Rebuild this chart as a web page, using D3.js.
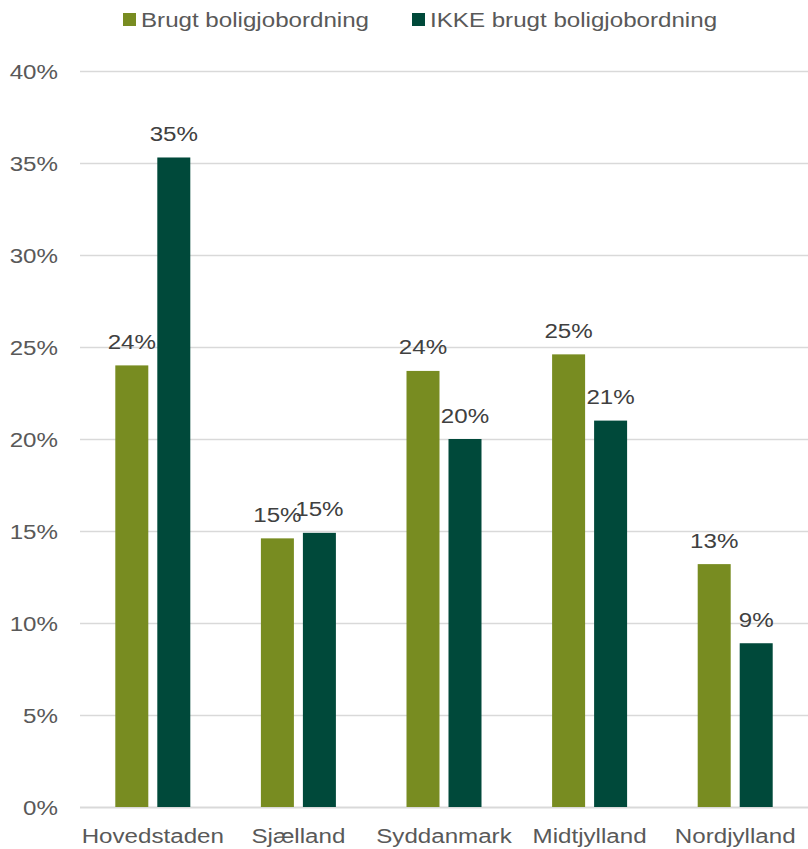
<!DOCTYPE html>
<meta charset="utf-8" />
<script src="https://d3js.org/d3.v7.min.js"></script>
<style>
  html, body { margin: 0; padding: 0; background: #fff; }
  text { font-family: "Liberation Sans", Arial, sans-serif; }
</style>
<div id="chart"></div>
<script>
  var regions = ["Hovedstaden", "Sjælland", "Syddanmark", "Midtjylland", "Nordjylland"];
  var seriesNames = ["Brugt boligjobordning", "IKKE brugt boligjobordning"];
  var brugt = [0.24, 0.146, 0.237, 0.246, 0.132];
  var ikkeBrugt = [0.353, 0.149, 0.20, 0.21, 0.089];
  var yTicks = [0, 0.05, 0.1, 0.15, 0.2, 0.25, 0.3, 0.35, 0.4];
  var colours = ["#788c21", "#00493a"];

  var width = 808, height = 849;
  var margin = { top: 71, right: 0, bottom: 42, left: 80 };
  var fontSize = 21, stretch = 1.15;

  var svg = d3.select("#chart").append("svg")
    .attr("width", width)
    .attr("height", height);

  var x = d3.scaleBand()
    .domain(regions)
    .range([margin.left, width - margin.right]);

  var y = d3.scaleLinear()
    .domain([0, 0.4])
    .range([height - margin.bottom, margin.top]);

  var barW = 33, gap = 9;
  var inner = d3.scaleBand()
    .domain([0, 1])
    .range([0, barW * 2 + gap])
    .paddingInner(gap / (barW + gap));

  // stretched text helper (reference text is wider than plain Arial)
  function label(g, tx, ty, anchor, fill, str) {
    return g.append("text")
      .attr("transform", "translate(" + tx + "," + ty + ") scale(" + stretch + ",1)")
      .attr("text-anchor", anchor)
      .attr("fill", fill)
      .style("font-size", fontSize + "px")
      .text(str);
  }

  // gridlines
  svg.append("g")
    .selectAll("line")
    .data(yTicks)
    .enter()
    .append("line")
    .attr("x1", margin.left)
    .attr("x2", width - margin.right)
    .attr("y1", function(d) { return Math.round(y(d)) + 0.5; })
    .attr("y2", function(d) { return Math.round(y(d)) + 0.5; })
    .attr("stroke", "#d9d9d9")
    .attr("stroke-width", function(d) { return d === 0 ? 2 : 1.5; });

  // y axis labels
  var gy = svg.append("g");
  yTicks.forEach(function(t) {
    label(gy, 58, y(t) + 7.5, "end", "#595959", d3.format(".0%")(t));
  });

  // x axis labels
  var gx = svg.append("g");
  regions.forEach(function(r) {
    label(gx, x(r) + x.bandwidth() / 2, y(0) + 36, "middle", "#595959", r);
  });

  var data = [];
  regions.forEach(function(r, i) {
    data.push({ region: r, s: 0, v: brugt[i] });
    data.push({ region: r, s: 1, v: ikkeBrugt[i] });
  });

  function barX(d) {
    return x(d.region) + (x.bandwidth() - (barW * 2 + gap)) / 2 + inner(d.s);
  }

  svg.append("g")
    .selectAll("rect")
    .data(data)
    .enter()
    .append("rect")
    .attr("x", barX)
    .attr("y", function(d) { return y(d.v); })
    .attr("width", inner.bandwidth())
    .attr("height", function(d) { return y(0) - y(d.v); })
    .attr("fill", function(d) { return colours[d.s]; });

  var gl = svg.append("g");
  data.forEach(function(d) {
    label(gl, barX(d) + inner.bandwidth() / 2, y(d.v) - 16.5, "middle", "#404040", d3.format(".0%")(d.v));
  });

  // legend
  var legendX = [123, 412];
  var legend = svg.append("g");
  seriesNames.forEach(function(name, i) {
    legend.append("rect")
      .attr("x", legendX[i])
      .attr("y", 13)
      .attr("width", 13)
      .attr("height", 13)
      .attr("fill", colours[i]);
    label(legend, legendX[i] + 18, 27, "start", "#595959", name);
  });
</script>
